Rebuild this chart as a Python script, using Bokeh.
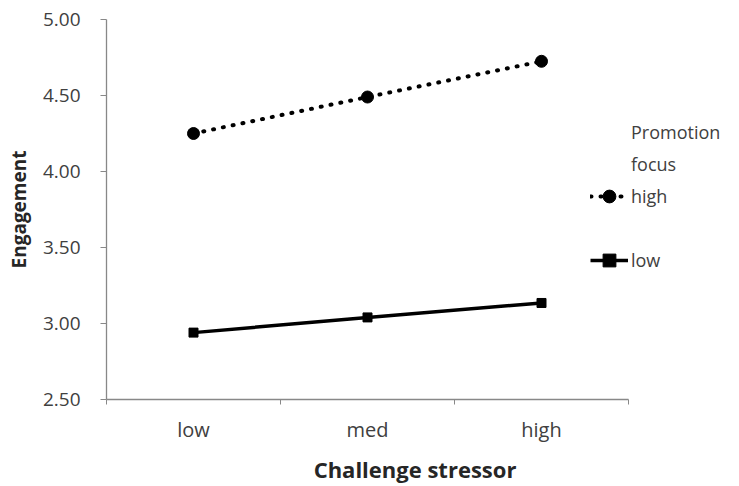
from bokeh.plotting import figure
from bokeh.models import (Range1d, FixedTicker, Legend, LegendItem,
                          NumeralTickFormatter, ColumnDataSource)
from bokeh.embed import file_html
from bokeh.resources import INLINE

# ---- data ----
categories = ["low", "med", "high"]
high_focus = [4.25, 4.49, 4.725]
low_focus = [2.94, 3.04, 3.135]
y_ticks = [2.5, 3.0, 3.5, 4.0, 4.5, 5.0]
legend_title_lines = ["Promotion", "focus"]
series_names = ["high", "low"]

FONT = "Open Sans"
TXT = "#404040"

n = len(categories)
cat_pos = [i + 0.5 for i in range(n)]          # category centres on the x scale
src = ColumnDataSource(dict(x=cat_pos, cat=categories, hi=high_focus, lo=low_focus))

W, H = 739, 486
LEFT, RIGHT, TOP, BOTTOM = 106, 16, 19, 87
frame_w = W - LEFT - RIGHT
x_end = n * frame_w / 522.0      # the category axis spans 522 px; room on the right for the legend

p = figure(width=W, height=H, output_backend="svg", toolbar_location=None,
           x_range=Range1d(0, x_end), y_range=Range1d(2.5, 5.0),
           min_border_left=LEFT, min_border_right=RIGHT,
           min_border_top=TOP, min_border_bottom=BOTTOM)
p.outline_line_color = None
p.xgrid.grid_line_color = None
p.ygrid.grid_line_color = None
p.background_fill_color = "white"
p.border_fill_color = "white"

# x axis: labels at category centres, ticks at category boundaries
xax = p.xaxis[0]
xax.bounds = (0, n)
xax.ticker = FixedTicker(ticks=cat_pos, minor_ticks=list(range(n + 1)))
xax.major_label_overrides = {cp: c for cp, c in zip(cat_pos, categories)}
xax.major_tick_line_color = None
xax.major_tick_out = 5
xax.minor_tick_in = 0
xax.minor_tick_out = 5
xax.minor_tick_line_color = "#888888"
xax.axis_line_color = "#888888"
xax.axis_line_width = 1.3
xax.major_label_standoff = 11
xax.major_label_text_font = FONT
xax.major_label_text_font_size = "20px"
xax.major_label_text_color = TXT
xax.axis_label = "Challenge stressor"
xax.axis_label_text_font = FONT
xax.axis_label_text_font_style = "bold"
xax.axis_label_text_font_size = "22px"
xax.axis_label_text_color = "#262626"
xax.axis_label_standoff = 8

yax = p.yaxis[0]
yax.ticker = FixedTicker(ticks=y_ticks)
yax.formatter = NumeralTickFormatter(format="0.00")
yax.minor_tick_line_color = None
yax.major_tick_in = 0
yax.major_tick_out = 6
yax.major_tick_line_color = "#888888"
yax.axis_line_color = "#888888"
yax.axis_line_width = 1.3
yax.major_label_standoff = 20
yax.major_label_text_font = FONT
yax.major_label_text_font_size = "19px"
yax.major_label_text_color = TXT
yax.axis_label = "Engagement"
yax.axis_label_text_font = FONT
yax.axis_label_text_font_style = "bold"
yax.axis_label_text_font_size = "19px"
yax.axis_label_text_color = "#262626"
yax.axis_label_standoff = 8

# series
l_hi = p.line("x", "hi", source=src, line_color="black", line_width=4,
              line_dash="1 9", line_cap="round")
m_hi = p.scatter("x", "hi", source=src, marker="circle", size=12,
                 fill_color="black", line_color="black")
l_lo = p.line("x", "lo", source=src, line_color="black", line_width=3.5)
m_lo = p.scatter("x", "lo", source=src, marker="square", size=9,
                 fill_color="black", line_color="black")

# invisible renderer for text-only legend rows
blank = p.line(x=[], y=[], line_alpha=0)

items = [LegendItem(label=legend_title_lines[0], renderers=[blank]),
         LegendItem(label=legend_title_lines[1], renderers=[blank]),
         LegendItem(label=series_names[0], renderers=[l_hi, m_hi]),
         LegendItem(label=" ", renderers=[blank]),
         LegendItem(label=series_names[1], renderers=[l_lo, m_lo])]
legend = Legend(items=items, location=(484, 123), orientation="vertical",
                glyph_width=38, glyph_height=32, label_height=32,
                label_standoff=3, spacing=0, padding=0, margin=0,
                border_line_color=None, background_fill_alpha=0,
                label_text_font=FONT, label_text_font_size="18px",
                label_text_color=TXT)
p.add_layout(legend, "center")

open("out.html", "w").write(file_html(p, INLINE))
